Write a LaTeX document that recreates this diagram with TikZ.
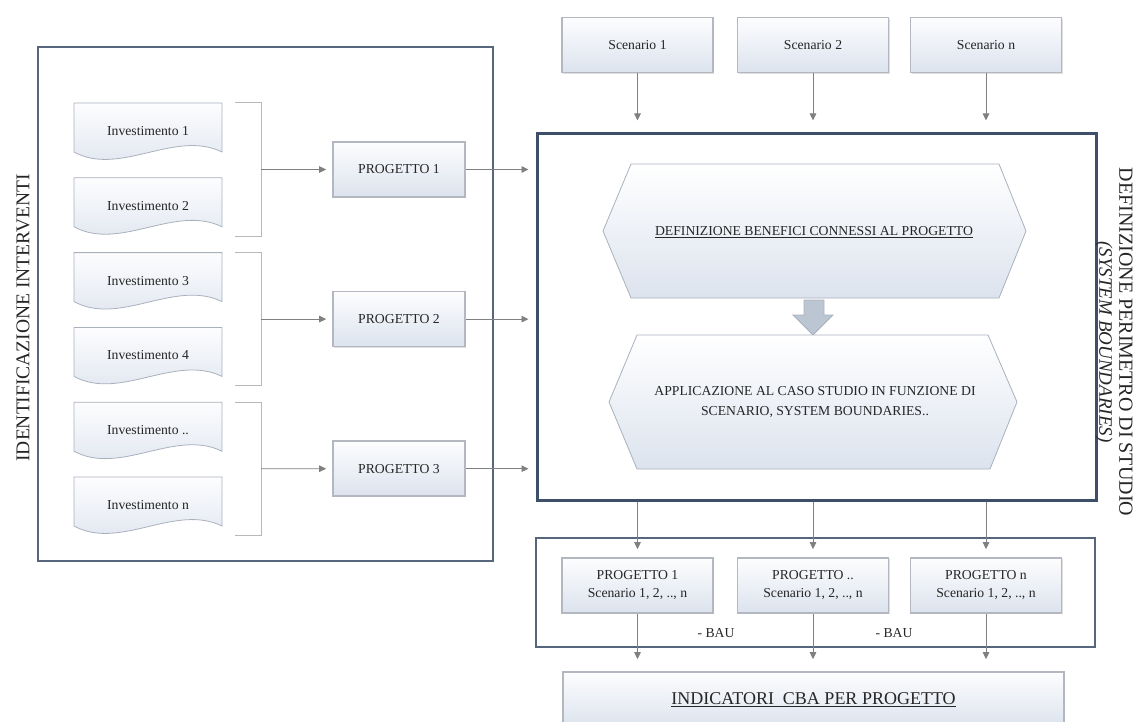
\documentclass[tikz,border=0pt]{standalone}
\usepackage{fontspec}
\setmainfont{Liberation Serif}
\usetikzlibrary{arrows.meta,shadows}
\definecolor{boxtop}{HTML}{FDFDFE}
\definecolor{boxbot}{HTML}{DCE3EE}
\definecolor{boxline}{HTML}{B3B8C0}
\definecolor{docline}{HTML}{A9B1BD}
\definecolor{frameA}{HTML}{3E5069}
\definecolor{frameB}{HTML}{56667C}
\definecolor{arrowc}{HTML}{808080}
\definecolor{brack}{HTML}{B8B8B8}
\definecolor{fatc}{HTML}{BCC6D3}
\definecolor{txt}{HTML}{262626}
\begin{document}
\begin{tikzpicture}[x=1pt,y=-1pt,
  every node/.style={font=\fontsize{13.7}{18}\selectfont, text=txt},
  sbox/.style={draw=boxline, line width=1.6pt, top color=boxtop, bottom color=boxbot,
    minimum width=151pt, minimum height=55pt, inner sep=0pt, align=center,
    drop shadow={shadow xshift=1.2pt,shadow yshift=-1.2pt,opacity=0.25}},
  pbox/.style={sbox, minimum width=132pt},
  docshape/.style={draw=docline, line width=0.8pt, top color=boxtop, bottom color=boxbot},
  hexshape/.style={draw=docline, line width=0.8pt, top color=white, bottom color=boxbot},
  arr/.style={draw=arrowc, line width=0.9pt, -{Triangle[length=7pt,width=6.5pt]}},
  brk/.style={draw=brack, line width=1pt},
  label/.style={inner sep=0pt},
  side/.style={font=\fontsize{19.5}{22}\selectfont}
]
\useasboundingbox (0,0) rectangle (1145,722);
\clip (0,0) rectangle (1145,722);

% frames
\node[draw=frameB, line width=1.3pt, minimum width=455pt, minimum height=514pt, inner sep=0pt] (leftbox) at (265.5,304) {};
\node[draw=frameA, line width=3pt, minimum width=559pt, minimum height=366pt, inner sep=0pt] (big) at (816.5,317) {};
\node[draw=frameB, line width=1.2pt, minimum width=559pt, minimum height=109pt, inner sep=0pt] (lower) at (815.5,592.5) {};

% side labels
\node[rotate=90, side] (lt) at (23,318) {IDENTIFICAZIONE INTERVENTI};
\node[rotate=-90, side, font=\fontsize{20}{22}\selectfont] (rt1) at (1126,342) {DEFINIZIONE PERIMETRO DI STUDIO};
\node[rotate=-90, side, font=\fontsize{19}{22}\selectfont\itshape] (rt2) at (1104,342) {(SYSTEM BOUNDARIES)};

% documents
\foreach \i/\lab in {0/1,1/2,2/3,3/4,4/..,5/n}{
  \pgfmathsetmacro{\t}{103+74.8*\i}
  \path[docshape] (74,\t) -- (222,\t) -- (222,\t+49)
     .. controls (175,\t+26) and (120,\t+74) .. (74,\t+49) -- cycle;
  \node[label] (inv\i) at (148,\t+28) {Investimento \lab};
}

% brackets
\foreach \k in {0,1,2}{
  \pgfmathsetmacro{\b}{103+149.6*\k}
  \draw[brk] (235,\b) -- (261,\b) -- (261,\b+133) -- (235,\b+133);
  \coordinate (br\k) at (261,\b+66.5);
}

% project boxes (left)
\node[pbox] (p0) at (399,169.5) {PROGETTO 1};
\node[pbox] (p1) at (399,319.1) {PROGETTO 2};
\node[pbox] (p2) at (399,468.7) {PROGETTO 3};

\foreach \k in {0,1,2}{
  \draw[arr, shorten >=6pt] (br\k) -- (p\k.west);
  \draw[arr, shorten >=7pt] (p\k.east) -- (p\k.east -| big.west);
}

% scenarios
\node[sbox] (s1) at (637.5,45) {Scenario 1};
\node[sbox] (s2) at (813,45) {Scenario 2};
\node[sbox] (s3) at (986,45) {Scenario n};
\foreach \s in {s1,s2,s3}{
  \draw[arr, shorten >=12pt] (\s.south) -- (\s.south |- big.north);
}

% hexagons
\path[hexshape] (603,231) -- (631,164) -- (999,164) -- (1026,231) -- (999,298) -- (631,298) -- cycle;
\node[label] (hexA) at (814,232) {\underline{DEFINIZIONE BENEFICI CONNESSI AL PROGETTO}};
\path[draw=docline, line width=0.8pt, fill=fatc] (804,300) -- (824,300) -- (824,315) -- (833,315) -- (813,335) -- (793,315) -- (804,315) -- cycle;
\path[hexshape] (609,402) -- (637,335) -- (988,335) -- (1017,402) -- (990,469) -- (637,469) -- cycle;
\node[label, align=center, font=\fontsize{13.7}{20}\selectfont] (hexB) at (815,402) {APPLICAZIONE AL CASO STUDIO IN FUNZIONE DI\\SCENARIO, SYSTEM BOUNDARIES..};

% lower project boxes
\node[sbox] (q1) at (637.5,585.5) {PROGETTO 1\\Scenario 1, 2, .., n};
\node[sbox] (q2) at (813,585.5) {PROGETTO ..\\Scenario 1, 2, .., n};
\node[sbox] (q3) at (986,585.5) {PROGETTO n\\Scenario 1, 2, .., n};

% result box
\node[sbox, minimum width=501pt, font=\fontsize{18}{20}\selectfont] (ind) at (813.5,699.5) {\underline{INDICATORI\ \ CBA PER PROGETTO}};

\foreach \q in {q1,q2,q3}{
  \draw[arr, shorten >=8pt] (big.south -| \q.north) -- (\q.north);
  \draw[arr, shorten >=12pt] (\q.south) -- (\q.south |- ind.north);
}

\node[label] (bau1) at (716,633) {- BAU};
\node[label] (bau2) at (894,633) {- BAU};
\end{tikzpicture}
\end{document}
